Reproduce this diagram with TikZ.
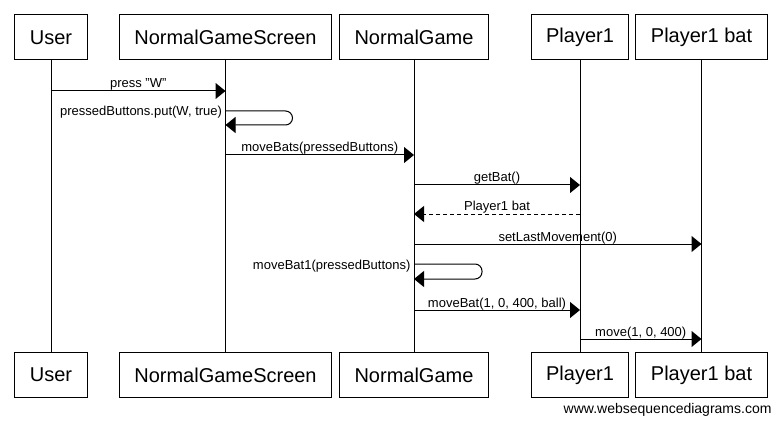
\documentclass[tikz,border=0pt]{standalone}
\usepackage{fontspec}
\setmainfont{Liberation Sans}
\usetikzlibrary{arrows.meta}

\begin{document}
\begin{tikzpicture}[x=1pt, y=-1pt, line width=1pt,
    actor/.style={draw, minimum height=45pt, inner xsep=15pt, font=\fontsize{20}{24}\selectfont},
    msg/.style={-{Triangle[length=10pt, width=16pt]}},
    reply/.style={msg, dash pattern=on 4pt off 3pt},
    selfloop/.style={msg, rounded corners=7pt},
    lbl/.style={font=\fontsize{13}{15}\selectfont, inner sep=0pt}]
      \useasboundingbox (0,0) rectangle (781,422);
      % participants with lifelines
      \foreach \nm/\txt/\x in {user/User/51, screen/NormalGameScreen/225.5, game/NormalGame/414, player/Player1/580, bat/Player1 bat/701.5} {
        \node[actor] (\nm-top) at (\x,37.5) {\txt};
        \node[actor] (\nm-bot) at (\x,375) {\txt};
        \draw (\nm-top) -- (\nm-bot);
      }
      % points on the lifelines
      \coordinate (pressA) at (user-top |- 0,91);
      \coordinate (pressB) at (screen-top |- 0,91);
      \coordinate (putA) at (screen-top |- 0,111);
      \coordinate (putB) at (screen-top |- 0,125);
      \coordinate (batsA) at (screen-top |- 0,155);
      \coordinate (batsB) at (game-top |- 0,155);
      \coordinate (getA) at (game-top |- 0,185);
      \coordinate (getB) at (player-top |- 0,185);
      \coordinate (retA) at (player-top |- 0,214);
      \coordinate (retB) at (game-top |- 0,214);
      \coordinate (lastA) at (game-top |- 0,244);
      \coordinate (lastB) at (bat-top |- 0,244);
      \coordinate (bat1A) at (game-top |- 0,264);
      \coordinate (bat1B) at (game-top |- 0,279);
      \coordinate (mbA) at (game-top |- 0,310);
      \coordinate (mbB) at (player-top |- 0,310);
      \coordinate (mvA) at (player-top |- 0,339);
      \coordinate (mvB) at (bat-top |- 0,339);
      % messages
      \draw[msg] (pressA) -- node[lbl, anchor=base, yshift=3pt]{press "W"} (pressB);
      \draw[selfloop] (putA) node[lbl, anchor=base east, xshift=-3pt, yshift=-5pt]{pressedButtons.put(W, true)}
        -- ++(67,0) -- ++(0,14) -- (putB);
      \draw[msg] (batsA) -- node[lbl, anchor=base, yshift=3pt]{moveBats(pressedButtons)} (batsB);
      \draw[msg] (getA) -- node[lbl, anchor=base, yshift=3pt]{getBat()} (getB);
      \draw[reply] (retA) -- node[lbl, anchor=base, yshift=3pt]{Player1 bat} (retB);
      \draw[msg] (lastA) -- node[lbl, anchor=base, yshift=3pt]{setLastMovement(0)} (lastB);
      \draw[selfloop] (bat1A) node[lbl, anchor=base east, xshift=-3pt, yshift=-5pt]{moveBat1(pressedButtons)}
        -- ++(68,0) -- ++(0,15) -- (bat1B);
      \draw[msg] (mbA) -- node[lbl, anchor=base, yshift=3pt]{moveBat(1, 0, 400, ball)} (mbB);
      \draw[msg] (mvA) -- node[lbl, anchor=base, yshift=3pt]{move(1, 0, 400)} (mvB);
      \node[font=\fontsize{14}{16}\selectfont, anchor=base east, inner sep=0pt] (credit) at (772,413) {www.websequencediagrams.com};
    \end{tikzpicture}
\end{document}
